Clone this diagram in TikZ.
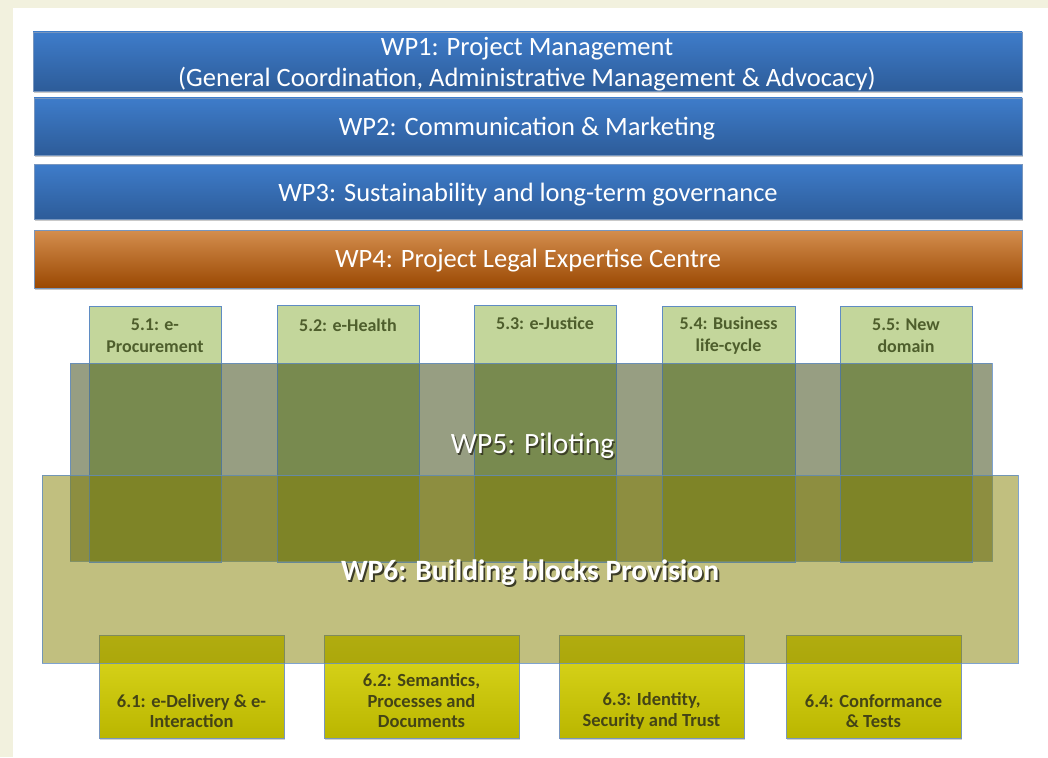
\documentclass[tikz,border=0pt]{standalone}
\usepackage{fontspec}
\setmainfont{Carlito}
\usetikzlibrary{shadows}
\definecolor{cream}{RGB}{242,241,222}
\definecolor{bluetop}{RGB}{62,124,202}
\definecolor{bluebot}{RGB}{45,92,153}
\definecolor{blueedge}{RGB}{120,150,190}
\definecolor{orangetop}{RGB}{212,142,78}
\definecolor{orangebot}{RGB}{154,72,2}
\definecolor{pilotfill}{RGB}{195,214,155}
\definecolor{pilotedge}{RGB}{95,140,195}
\definecolor{pilottext}{RGB}{78,94,44}
\definecolor{wpfive}{RGB}{43,59,0}
\definecolor{wpsix}{RGB}{133,128,0}
\definecolor{bbtop}{RGB}{222,218,32}
\definecolor{bbbot}{RGB}{186,182,0}
\definecolor{bbtext}{RGB}{68,68,22}
\definecolor{shadowtxt}{RGB}{45,45,30}
\tikzset{
  every node/.style={inner sep=0pt, outer sep=0pt},
  wpbar/.style={draw=blueedge, line width=0.8pt, top color=bluetop, bottom color=bluebot,
    drop shadow={shadow xshift=0.5pt, shadow yshift=-2pt, opacity=0.35, fill=black!60}},
  orangebar/.style={draw=blueedge, line width=0.8pt, top color=orangetop, bottom color=orangebot,
    drop shadow={shadow xshift=0.5pt, shadow yshift=-2pt, opacity=0.35, fill=black!60}},
  bartext/.style={text=white, font=\fontsize{26.5}{31}\selectfont, align=center},
  pilotbox/.style={draw=pilotedge, line width=0.8pt, fill=pilotfill},
  pilotline/.style={draw=pilotedge, draw opacity=0.55, line width=0.8pt},
  pilottxt/.style={text=pilottext, font=\bfseries\fontsize{18}{22}\selectfont, align=center},
  wpfivebox/.style={fill=wpfive, fill opacity=0.49, draw=pilotedge, draw opacity=0.8, line width=0.8pt},
  wpsixbox/.style={fill=wpsix, fill opacity=0.5, draw=pilotedge, draw opacity=0.8, line width=0.8pt},
  bbbox/.style={draw=blueedge, line width=0.8pt, top color=bbtop, bottom color=bbbot,
    drop shadow={shadow xshift=0.5pt, shadow yshift=-2pt, opacity=0.3, fill=black!60}},
  bbtxt/.style={text=bbtext, font=\bfseries\fontsize{18.5}{20.5}\selectfont, align=center},
  titlefive/.style={font=\fontsize{29.5}{31}\selectfont},
  titlesix/.style={font=\bfseries\fontsize{29.5}{31}\selectfont},
}
\begin{document}
\begin{tikzpicture}[x=1pt, y=-1pt]
\useasboundingbox (0,0) rectangle (1048,757);
\fill[cream] (0,0) rectangle (1048,757);
\fill[white] (13,8) rectangle (1048,757);

% top bars
\node[wpbar, minimum width=989pt, minimum height=59pt] (wp1) at (527.5,61.5) {};
\node[wpbar, minimum width=988pt, minimum height=57pt] (wp2) at (528,126.5) {};
\node[wpbar, minimum width=988pt, minimum height=55pt] (wp3) at (528,191.5) {};
\node[orangebar, minimum width=988pt, minimum height=58pt] (wp4) at (528,259) {};
\node[bartext] (wp1t) at (527,64) {WP1: Project Management\\(General Coordination, Administrative Management \& Advocacy)};
\node[bartext] (wp2t) at (527,129) {WP2: Communication \& Marketing};
\node[bartext] (wp3t) at (528,194.5) {WP3: Sustainability and long-term governance};
\node[bartext] (wp4t) at (528,261) {WP4: Project Legal Expertise Centre};

% building block boxes (below WP6)
\node[bbbox, minimum width=185pt, minimum height=103pt] (b61) at (191.5,686.5) {};
\node[bbbox, minimum width=195pt, minimum height=103pt] (b62) at (421.5,686.5) {};
\node[bbbox, minimum width=185pt, minimum height=103pt] (b63) at (651.5,686.5) {};
\node[bbbox, minimum width=175pt, minimum height=103pt] (b64) at (873.5,686.5) {};

% pilot boxes
\node[pilotbox, minimum width=132pt, minimum height=256pt] (p51) at (155,434) {};
\node[pilotbox, minimum width=142pt, minimum height=257pt] (p52) at (348,433.5) {};
\node[pilotbox, minimum width=142pt, minimum height=257pt] (p53) at (545,433.5) {};
\node[pilotbox, minimum width=133pt, minimum height=256pt] (p54) at (728.5,434) {};
\node[pilotbox, minimum width=132pt, minimum height=256pt] (p55) at (906,434) {};

% WP5 and WP6 translucent layers
\node[wpfivebox, minimum width=922pt, minimum height=198pt] (wp5) at (531,462) {};
\node[wpsixbox, minimum width=976pt, minimum height=188pt] (wp6) at (530,569) {};

% pilot outlines seen through
\foreach \p in {p51,p52,p53,p54,p55} {
  \draw[pilotline] (\p.north west) rectangle (\p.south east);
}

% pilot labels
\node[pilottxt] (p51t) at (155,336) {5.1: e-\\Procurement};
\node[pilottxt] (p52t) at (348,325) {5.2: e-Health};
\node[pilottxt] (p53t) at (545,323.5) {5.3: e-Justice};
\node[pilottxt] (p54t) at (728.5,336) {5.4: Business\\life-cycle};
\node[pilottxt] (p55t) at (906,336) {5.5: New\\domain};

% WP5 / WP6 titles with shadow
\node[titlefive, text=shadowtxt, text opacity=0.8] (wp5s) at (534,447.5) {WP5: Piloting};
\node[titlefive, text=white] (wp5t) at (532.5,446) {WP5: Piloting};
\node[titlesix, text=shadowtxt, text opacity=0.9] (wp6s) at (531.8,574.3) {WP6: Building blocks Provision};
\node[titlesix, text=white] (wp6t) at (530,572.5) {WP6: Building blocks Provision};

% building block labels
\node[bbtxt] (b61t) at (191.5,711) {6.1: e-Delivery \& e-\\Interaction};
\node[bbtxt] (b62t) at (421.5,701) {6.2: Semantics,\\Processes and\\Documents};
\node[bbtxt] (b63t) at (651.5,711) {6.3: Identity,\\Security and Trust};
\node[bbtxt] (b64t) at (873.5,711) {6.4: Conformance\\\& Tests};
\end{tikzpicture}
\end{document}
